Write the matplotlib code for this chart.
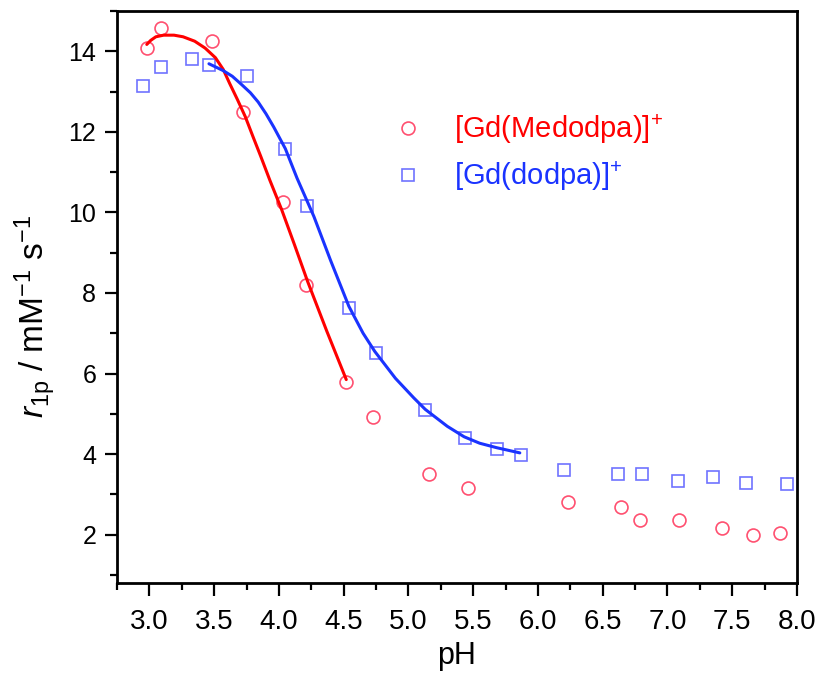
import matplotlib
matplotlib.use("Agg")
import matplotlib.pyplot as plt
from matplotlib.ticker import MultipleLocator, FormatStrFormatter

plt.rcParams['font.family'] = ['Liberation Sans', 'DejaVu Sans']
plt.rcParams['mathtext.fontset'] = 'custom'
plt.rcParams['mathtext.rm'] = 'Liberation Sans'
plt.rcParams['mathtext.it'] = 'Liberation Sans:italic'

# Data: [Gd(Medodpa)]+ (circles)
ph_med = [2.98, 3.09, 3.48, 3.72, 4.03, 4.21, 4.52, 4.73, 5.16, 5.46, 6.23, 6.64, 6.79,
          7.09, 7.42, 7.66, 7.87]
r_med = [14.07, 14.59, 14.25, 12.50, 10.27, 8.21, 5.80, 4.92, 3.51, 3.17, 2.80, 2.69, 2.37,
         2.37, 2.16, 1.99, 2.05]

# Data: [Gd(dodpa)]+ (squares)
ph_dod = [2.95, 3.09, 3.33, 3.46, 3.75, 4.05, 4.22, 4.54, 4.75, 5.13, 5.44, 5.68, 5.87,
          6.20, 6.62, 6.80, 7.08, 7.35, 7.61, 7.92]
r_dod = [13.13, 13.62, 13.81, 13.67, 13.38, 11.58, 10.17, 7.63, 6.52, 5.10, 4.40, 4.13, 3.98,
         3.61, 3.50, 3.50, 3.33, 3.42, 3.28, 3.25]

# Fitted curves
ph_fit_med = [2.98, 3.01, 3.05, 3.11, 3.19, 3.26, 3.35, 3.43, 3.51, 3.57, 3.62, 3.68, 3.74,
              3.80, 3.86, 3.93, 4.02, 4.12, 4.22, 4.37, 4.52]
r_fit_med = [14.17, 14.27, 14.36, 14.40, 14.40, 14.36, 14.25, 14.08, 13.84, 13.55, 13.20,
             12.80, 12.38, 11.88, 11.39, 10.80, 10.08, 9.20, 8.30, 7.05, 5.85]

ph_fit_dod = [3.46, 3.57, 3.64, 3.71, 3.78, 3.84, 3.90, 3.96, 4.05, 4.14, 4.27, 4.40, 4.54,
              4.65, 4.74, 4.90, 5.04, 5.13, 5.30, 5.43, 5.55, 5.68, 5.86]
r_fit_dod = [13.69, 13.52, 13.38, 13.18, 12.97, 12.74, 12.45, 12.12, 11.58, 10.85, 9.90,
             8.80, 7.67, 7.00, 6.55, 5.88, 5.40, 5.11, 4.69, 4.43, 4.27, 4.16, 4.03]

xticks = [3.0, 3.5, 4.0, 4.5, 5.0, 5.5, 6.0, 6.5, 7.0, 7.5, 8.0]
yticks = [2, 4, 6, 8, 10, 12, 14]

fig = plt.figure(figsize=(8.19, 6.86), dpi=100)
ax = fig.add_axes([117/819, 1-583/686, (797-117)/819, (583-11)/686])

red_m = '#ff5070'
blue_m = '#6f73ff'
ax.plot(ph_med, r_med, linestyle='none', marker='o', markersize=9.3, markerfacecolor='none',
        markeredgecolor=red_m, markeredgewidth=1.2, label='[Gd(Medodpa)]$^{+}$')
ax.plot(ph_dod, r_dod, linestyle='none', marker='s', markersize=8.7, markerfacecolor='none',
        markeredgecolor=blue_m, markeredgewidth=1.2, label='[Gd(dodpa)]$^{+}$')
ax.plot(ph_fit_med, r_fit_med, color='#ff0000', lw=2.2, solid_capstyle='round',
        solid_joinstyle='round')
ax.plot(ph_fit_dod, r_fit_dod, color='#1a33ff', lw=2.2, solid_capstyle='round',
        solid_joinstyle='round')

ax.set_xlim(2.75, 8.0)
ax.set_ylim(0.8, 15.0)
ax.set_xticks(xticks)
ax.set_yticks(yticks)
ax.xaxis.set_minor_locator(MultipleLocator(0.25))
ax.yaxis.set_minor_locator(MultipleLocator(1))
ax.xaxis.set_major_formatter(FormatStrFormatter('%.1f'))
ax.tick_params(which='major', direction='out', length=9, width=1.6, labelsize=18, pad=6)
ax.tick_params(which='minor', direction='out', length=5, width=1.6)
ax.tick_params(axis='x', which='major', pad=10)
for s in ax.spines.values():
    s.set_linewidth(2)
for lab in ax.get_xticklabels():
    lab.set_fontsize(20)

ax.set_xlabel('pH', fontsize=22)
ax.xaxis.set_label_coords(0.5, (583 - 641) / 572)
ax.set_ylabel(r'$\mathit{r}_{\mathrm{1p}}$ / mM$^{\mathrm{-1}}$ s$^{\mathrm{-1}}$', fontsize=24)
ax.yaxis.set_label_coords((58 - 117) / 680, (583 - 316) / 572)

fs = 21
fs_px = fs * 100 / 72
hl = 1.0
left_px = 408 - hl * fs_px / 2
pad = (454 - left_px - hl * fs_px) / fs_px
leg = ax.legend(loc='upper left', bbox_to_anchor=(left_px / 819, 1 - 112 / 686),
                bbox_transform=fig.transFigure, frameon=False, fontsize=fs,
                handlelength=hl, handletextpad=pad, labelspacing=0.45,
                borderpad=0, borderaxespad=0,
                labelcolor=['#ff0000', '#1a33ff'])

fig.savefig('out.png', dpi=100)
